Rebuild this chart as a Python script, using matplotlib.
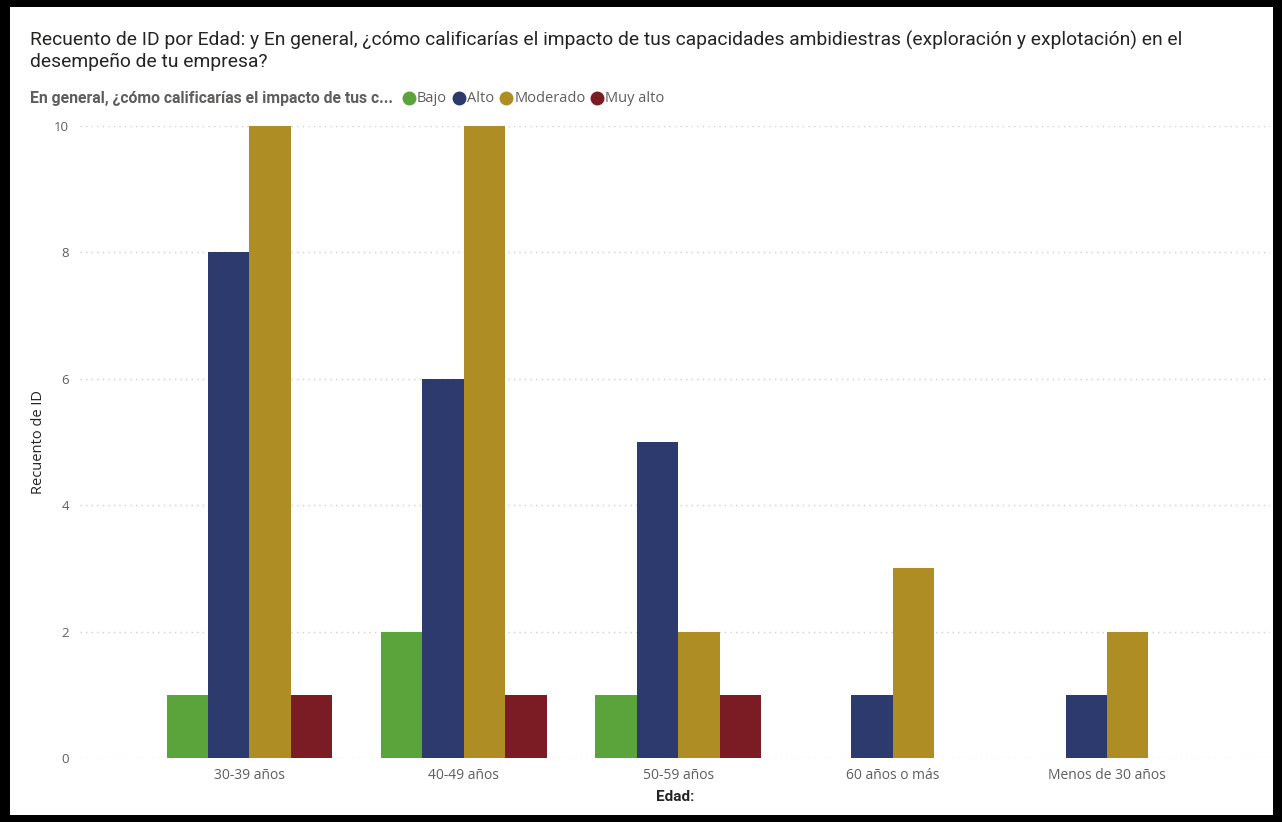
import numpy as np
import matplotlib
matplotlib.use('Agg')
import matplotlib.pyplot as plt
from matplotlib.patches import Rectangle
from matplotlib.lines import Line2D

# Data
edades = ['30-39 años', '40-49 años', '50-59 años', '60 años o más', 'Menos de 30 años']
series = ['Bajo', 'Alto', 'Moderado', 'Muy alto']
bajo = [1, 2, 1, None, None]
alto = [8, 6, 5, 1, 1]
moderado = [10, 10, 2, 3, 2]
muy_alto = [1, 1, 1, None, None]
colores = ['#5BA33B', '#2D3A6E', '#AE8E24', '#7B1C25']

valores = [bajo, alto, moderado, muy_alto]

title_font = ['Roboto', 'DejaVu Sans']
body_font = ['Open Sans', 'DejaVu Sans']
gray = '#605E5C'
dark = '#252423'

fig = plt.figure(figsize=(12.82, 8.22), dpi=100)
fig.patch.set_facecolor('black')
fig.add_artist(Rectangle((10 / 1282, 7 / 822), 1263 / 1282, 808 / 822,
                         transform=fig.transFigure, facecolor='white',
                         edgecolor='none', zorder=0))

ax = fig.add_axes([80 / 1282, 64 / 822, 1190 / 1282, 632 / 822])
ax.set_facecolor('white')

# Clustered bars: empty series are left out and the rest stay centred
ancho = 0.193
for i in range(len(edades)):
    presentes = [j for j in range(len(series)) if valores[j][i] is not None]
    n = len(presentes)
    for k, j in enumerate(presentes):
        off = (k - (n - 1) / 2) * ancho
        ax.bar(i + off, valores[j][i], width=ancho, color=colores[j],
               edgecolor='none', zorder=3)

ax.set_xlim(-0.79, 4.76)
ax.set_ylim(0, 10)
ax.set_xticks(range(len(edades)))
ax.set_xticklabels(edades, fontfamily=body_font, fontsize=10, color=gray)
ax.set_yticks(range(0, 11, 2))
ax.set_yticklabels([str(v) for v in range(0, 11, 2)], fontfamily=body_font,
                   fontsize=9.5, color=gray)
ax.tick_params(axis='x', length=0, pad=7)
ax.tick_params(axis='y', length=0, pad=8)
for s in ax.spines.values():
    s.set_visible(False)
ax.grid(axis='y', color='#D0D0D0', linestyle=(0, (1, 3)), linewidth=1, zorder=0)
ax.set_axisbelow(True)

ax.set_xlabel('Edad:', fontfamily=title_font, fontsize=11, color=dark,
              fontweight='bold', labelpad=5)
ax.set_ylabel('Recuento de ID', fontfamily=body_font, fontsize=10.5,
              color=dark, labelpad=6)

fig.text(30 / 1282, 1 - 51 / 822,
         'Recuento de ID por Edad: y En general, ¿cómo calificarías el impacto de tus '
         'capacidades ambidiestras (exploración y explotación) en el\n'
         'desempeño de tu empresa?',
         fontfamily=title_font, fontsize=13.9, color=dark, va='center',
         ha='left', linespacing=1.2)

# Legend row
fig.canvas.draw()
renderer = fig.canvas.get_renderer()
ly = 1 - 98 / 822
sub = fig.text(30 / 1282, ly, 'En general, ¿cómo calificarías el impacto de tus c...',
               fontfamily=title_font, fontsize=11.3, fontweight='bold', color=gray,
               va='center', ha='left')
x = sub.get_window_extent(renderer).x1 + 16
for nombre, c in zip(series, colores):
    fig.add_artist(Line2D([x / 1282], [ly], marker='o', markersize=9,
                          color=c, transform=fig.transFigure, linestyle='none'))
    t = fig.text((x + 8) / 1282, ly, nombre, fontfamily=body_font, fontsize=10.5,
                 color=gray, va='center', ha='left')
    x = t.get_window_extent(renderer).x1 + 12

fig.savefig('out.png', dpi=100, facecolor=fig.get_facecolor())
